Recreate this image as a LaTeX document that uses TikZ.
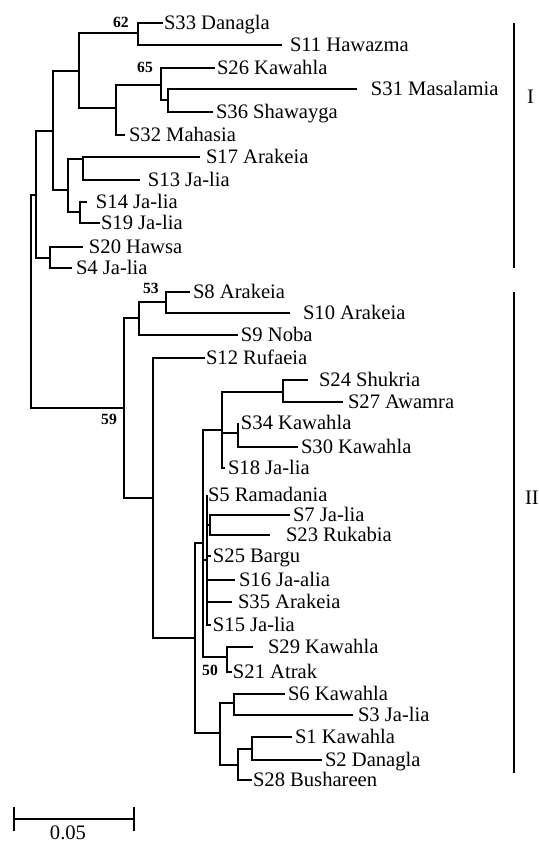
\documentclass[tikz,border=0pt]{standalone}
\usepackage{fontspec}
\setmainfont{Liberation Serif}
\usepackage{tikz}

\begin{document}
\begin{tikzpicture}[x=0.5pt,y=-0.5pt,line width=1pt,
    leaf/.style={anchor=west,inner sep=0pt,text height=0.66em,text depth=0pt,font=\fontsize{10.3}{12}\selectfont},
    bs/.style={inner sep=0pt,font=\fontsize{7.8}{9}\selectfont\bfseries}]
  \useasboundingbox (0,0) rectangle (539,843);
  \coordinate (r) at (31,301);%根
  % クラスターI
  \coordinate (cI) at (36,195);
  \coordinate (a1) at (53,131);
  \coordinate (a2) at (50,258);
  \coordinate (a3) at (79,71);
  \coordinate (a4) at (68,190);
  \coordinate (n62) at (138,33);
  \coordinate (a5) at (116,108);
  \coordinate (n65) at (161,85);
  \coordinate (a6) at (168,100);
  \coordinate (a7) at (83,159);
  \coordinate (a8) at (80,212);
  \coordinate (t33) at (163,23); \node[leaf] (s33) at (163,23) {S33 Danagla};
  \coordinate (t11) at (282,45); \node[leaf] (s11) at (289,45) {S11 Hawazma};
  \coordinate (t26) at (215,68); \node[leaf] (s26) at (216,68) {S26 Kawahla};
  \coordinate (t31) at (357,89); \node[leaf] (s31) at (370,89) {S31 Masalamia};
  \coordinate (t36) at (213,112); \node[leaf] (s36) at (215,112) {S36 Shawayga};
  \coordinate (t32) at (125,135); \node[leaf] (s32) at (128,135) {S32 Mahasia};
  \coordinate (t17) at (200,157); \node[leaf] (s17) at (205,157) {S17 Arakeia};
  \coordinate (t13) at (140,180); \node[leaf] (s13) at (147,180) {S13 Ja-lia};
  \coordinate (t14) at (87,202); \node[leaf] (s14) at (95,202) {S14 Ja-lia};
  \coordinate (t19) at (100,223); \node[leaf] (s19) at (100,223) {S19 Ja-lia};
  \coordinate (t20) at (83,247); \node[leaf] (s20) at (88,247) {S20 Hawsa};
  \coordinate (t4) at (72,268); \node[leaf] (s4) at (75,268) {S4 Ja-lia};
  \draw (cI) |- (a1) (cI) |- (a2);
  \draw (a1) |- (a3) (a1) |- (a4);
  \draw (a3) |- (n62) (a3) |- (a5);
  \draw (n62) |- (t33) (n62) |- (t11);
  \draw (a5) |- (n65) (a5) |- (t32);
  \draw (n65) |- (t26) (n65) |- (a6);
  \draw (a6) |- (t31) (a6) |- (t36);
  \draw (a4) |- (a7) (a4) |- (a8);
  \draw (a7) |- (t17) (a7) |- (t13);
  \draw (a8) |- (t14) (a8) |- (t19);
  \draw (a2) |- (t20) (a2) |- (t4);
  % クラスターII
  \coordinate (cII) at (124,408);
  \coordinate (b1) at (139,318);
  \coordinate (n53) at (166,302);
  \coordinate (b2) at (153,498);
  \coordinate (b3) at (195,638);
  \coordinate (b4) at (203,543);
  \coordinate (b5) at (220,733);
  \coordinate (b6) at (222,430);
  \coordinate (b7) at (207,560);
  \coordinate (n50) at (227,657);
  \coordinate (b8) at (283,392);
  \coordinate (b9) at (238,433);
  \coordinate (b10) at (210,525);
  \coordinate (b11) at (234,703);
  \coordinate (b12) at (238,765);
  \coordinate (b13) at (252,749);
  \coordinate (t8) at (190,292); \node[leaf] (s8) at (192,292) {S8 Arakeia};
  \coordinate (t10) at (290,313); \node[leaf] (s10) at (302,313) {S10 Arakeia};
  \coordinate (t9) at (238,335); \node[leaf] (s9) at (240,335) {S9 Noba};
  \coordinate (t12) at (205,358); \node[leaf] (s12) at (205,358) {S12 Rufaeia};
  \coordinate (t24) at (308,380); \node[leaf] (s24) at (318,380) {S24 Shukria};
  \coordinate (t27) at (343,402); \node[leaf] (s27) at (347,402) {S27 Awamra};
  \coordinate (t34) at (238,423); \node[leaf] (s34) at (240,423) {S34 Kawahla};
  \coordinate (t30) at (298,447); \node[leaf] (s30) at (300,447) {S30 Kawahla};
  \coordinate (t18) at (225,468); \node[leaf] (s18) at (227,468) {S18 Ja-lia};
  \coordinate (t5) at (207,495); \node[leaf] (s5) at (207,495) {S5 Ramadania};
  \coordinate (t7) at (290,515); \node[leaf] (s7) at (292,515) {S7 Ja-lia};
  \coordinate (t23) at (270,535); \node[leaf] (s23) at (285,535) {S23 Rukabia};
  \coordinate (t25) at (211,556); \node[leaf] (s25) at (212,556) {S25 Bargu};
  \coordinate (t16) at (235,580); \node[leaf] (s16) at (238,580) {S16 Ja-alia};
  \coordinate (t35) at (232,602); \node[leaf] (s35) at (237,602) {S35 Arakeia};
  \coordinate (t15) at (211,625); \node[leaf] (s15) at (212,625) {S15 Ja-lia};
  \coordinate (t29) at (253,647); \node[leaf] (s29) at (267,647) {S29 Kawahla};
  \coordinate (t21) at (232,672); \node[leaf] (s21) at (232,672) {S21 Atrak};
  \coordinate (t6) at (285,694); \node[leaf] (s6) at (287,694) {S6 Kawahla};
  \coordinate (t3) at (353,715); \node[leaf] (s3) at (357,715) {S3 Ja-lia};
  \coordinate (t1) at (292,737); \node[leaf] (s1) at (294,737) {S1 Kawahla};
  \coordinate (t2) at (322,760); \node[leaf] (s2) at (324,760) {S2 Danagla};
  \coordinate (t28) at (252,780); \node[leaf] (s28) at (252,780) {S28 Bushareen};
  \draw (r) |- (cI) (r) |- (cII);%根の枝
  \draw (cII) |- (b1) (cII) |- (b2);
  \draw (b1) |- (n53) (b1) |- (t9);
  \draw (n53) |- (t8) (n53) |- (t10);
  \draw (b2) |- (t12) (b2) |- (b3);
  \draw (b3) |- (b4) (b3) |- (b5);
  \draw (b4) |- (b6) (b4) |- (b7) (b4) |- (n50);
  \draw (b6) |- (b8) (b6) |- (b9) (b6) |- (t18);
  \draw (b8) |- (t24) (b8) |- (t27);
  \draw (b9) |- (t34) (b9) |- (t30);
  \draw (b7) |- (t5) (b7) |- (b10) (b7) |- (t25) (b7) |- (t16) (b7) |- (t35) (b7) |- (t15);
  \draw (b10) |- (t7) (b10) |- (t23);
  \draw (n50) |- (t29) (n50) |- (t21);
  \draw (b5) |- (b11) (b5) |- (b12);
  \draw (b11) |- (t6) (b11) |- (t3);
  \draw (b12) |- (b13) (b12) |- (t28);
  \draw (b13) |- (t1) (b13) |- (t2);
  % ブートストラップ値
  \node[bs] (l62) at (121,22) {62};
  \node[bs] (l65) at (145,67) {65};
  \node[bs] (l53) at (151,288) {53};
  \node[bs] (l59) at (109,419) {59};
  \node[bs] (l50) at (210,670) {50};
  % クラスターの帯
  \coordinate (bIt) at (514,23); \coordinate (bIb) at (514,268);
  \coordinate (bIIt) at (514,292); \coordinate (bIIb) at (514,773);
  \draw (bIt) -- (bIb);
  \draw (bIIt) -- (bIIb);
  \node[leaf] (labI) at (526,97) {I};
  \node[leaf] (labII) at (524,498) {II};
  % スケール
  \coordinate (sbl) at (14,819); \coordinate (sbr) at (134,819);
  \draw (sbl) -- (sbr);
  \draw (sbl) ++(0,-12) -- ++(0,24);
  \draw (sbr) ++(0,-12) -- ++(0,24);
  \node[inner sep=0pt,anchor=north,text depth=0pt,font=\fontsize{10.3}{12}\selectfont] (sbtxt) at (68,825) {0.05};
\end{tikzpicture}
\end{document}
